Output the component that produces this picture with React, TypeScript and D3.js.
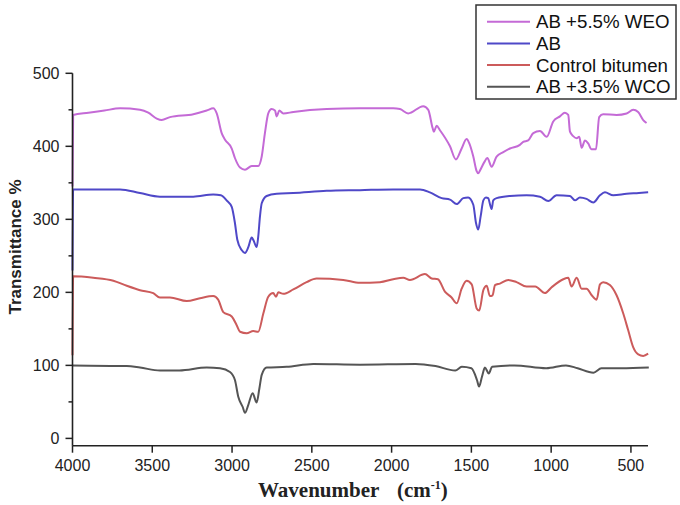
import React from "react";
import * as d3 from "d3";

const W = 680;
const H = 505;

const seriesNames = ["AB +5.5% WEO", "AB", "Control bitumen", "AB +3.5% WCO"];
const seriesColors = ["#c46ad6", "#4f48c8", "#cc5b5b", "#555555"];

const xTicks = [4000, 3500, 3000, 2500, 2000, 1500, 1000, 500];
const yTicks = [0, 100, 200, 300, 400, 500];
const yMinorTicks = [50, 150, 250, 350, 450];

// AB +5.5% WEO  [wavenumber, transmittance]
const weoData: [number, number][] = [
  [4000, 345], [3996, 443], [3900, 446], [3800, 449], [3702, 452], [3577, 450], [3525, 446],
  [3472, 438], [3441, 436], [3389, 440], [3243, 444], [3159, 449], [3118, 452], [3096, 445],
  [3065, 418], [3044, 409], [3002, 397], [2982, 384], [2950, 371], [2919, 368], [2877, 373],
  [2836, 373], [2814, 386], [2794, 418], [2773, 445], [2752, 451], [2731, 449], [2720, 441],
  [2704, 449], [2679, 445], [2616, 447], [2407, 451], [2198, 452], [1990, 452], [1948, 451],
  [1896, 445], [1802, 455], [1770, 450], [1743, 425], [1735, 420], [1718, 428], [1697, 422],
  [1634, 400], [1597, 382], [1561, 397], [1530, 410], [1513, 404], [1488, 386], [1467, 366],
  [1457, 363], [1446, 367], [1420, 378], [1400, 384], [1373, 372], [1342, 386], [1300, 392],
  [1258, 397], [1196, 402], [1175, 406], [1144, 408], [1112, 418], [1070, 421], [1028, 413],
  [987, 434], [945, 441], [914, 446], [893, 443], [882, 420], [862, 414], [840, 411],
  [824, 413], [809, 398], [788, 408], [768, 404], [747, 396], [719, 396], [699, 440],
  [674, 444], [590, 443], [527, 445], [486, 450], [455, 447], [423, 436], [402, 432],
];

// AB
const abData: [number, number][] = [
  [4000, 230], [3996, 341], [3702, 341], [3577, 336], [3452, 331], [3243, 331], [3118, 334],
  [3070, 333], [3034, 326], [3002, 317], [2982, 295], [2967, 272], [2940, 258], [2919, 254],
  [2898, 262], [2877, 275], [2865, 271], [2846, 262], [2836, 276], [2825, 304], [2814, 322],
  [2783, 332], [2720, 335], [2616, 336], [2407, 339], [2198, 340], [1990, 341], [1822, 341],
  [1760, 337], [1686, 329], [1634, 327], [1592, 321], [1551, 329], [1520, 330], [1488, 320],
  [1471, 295], [1457, 286], [1442, 304], [1425, 326], [1409, 330], [1395, 329], [1373, 314],
  [1363, 326], [1342, 329], [1258, 332], [1154, 333], [1070, 331], [1018, 325], [966, 333],
  [882, 332], [851, 326], [820, 330], [778, 328], [736, 323], [694, 333], [663, 337],
  [611, 333], [527, 335], [450, 336], [392, 337],
];

// Control bitumen
const controlData: [number, number][] = [
  [4000, 114], [3996, 222], [3870, 220], [3744, 216], [3660, 209], [3577, 203], [3494, 199],
  [3452, 193], [3389, 193], [3284, 188], [3201, 192], [3118, 195], [3087, 190], [3055, 173],
  [3002, 167], [2971, 155], [2950, 146], [2908, 144], [2867, 147], [2836, 146], [2804, 171],
  [2773, 194], [2742, 199], [2725, 194], [2710, 200], [2679, 198], [2616, 204], [2533, 214],
  [2470, 219], [2303, 217], [2198, 213], [2073, 214], [1990, 218], [1927, 220], [1885, 217],
  [1791, 225], [1749, 219], [1710, 218], [1666, 201], [1624, 193], [1592, 185], [1561, 205],
  [1530, 216], [1498, 211], [1467, 178], [1451, 175], [1425, 203], [1404, 209], [1384, 195],
  [1367, 196], [1352, 210], [1321, 212], [1269, 217], [1217, 214], [1154, 208], [1100, 208],
  [1039, 199], [997, 207], [924, 218], [893, 220], [872, 208], [840, 220], [809, 205],
  [778, 205], [746, 196], [715, 190], [694, 211], [674, 214], [632, 210], [590, 196],
  [548, 171], [517, 148], [486, 125], [454, 115], [423, 113], [392, 116],
];

// AB +3.5% WCO
const wcoData: [number, number][] = [
  [4000, 100], [3660, 99], [3577, 97], [3452, 93], [3330, 93], [3159, 97], [3075, 96],
  [3013, 91], [2982, 80], [2961, 57], [2933, 43], [2919, 35], [2898, 46], [2871, 62],
  [2846, 49], [2829, 68], [2814, 87], [2783, 97], [2658, 98], [2491, 102], [2198, 101],
  [1849, 102], [1725, 99], [1601, 93], [1560, 98], [1500, 96], [1465, 80], [1452, 71],
  [1434, 84], [1415, 97], [1391, 89], [1370, 98], [1230, 100], [1031, 96], [907, 100],
  [834, 96], [735, 90], [685, 96], [560, 96], [388, 97],
];

const allSeries = [weoData, abData, controlData, wcoData];

export default function App() {
  const x = d3.scaleLinear().domain([4000, 393]).range([72.5, 648]);
  const y = d3.scaleLinear().domain([-10, 500]).range([445.7, 73.3]);

  const line = d3
    .line<[number, number]>()
    .x((d) => x(d[0]))
    .y((d) => y(d[1]))
    .curve(d3.curveMonotoneX);

  const drawOrder = [3, 2, 1, 0];
  const axisY = y(-10);
  const axisX = x(4000);

  return (
    <svg
      width={W}
      height={H}
      style={{ position: "absolute", left: 0, top: 0, background: "#fff" }}
      fontFamily="'Liberation Sans', Arial, sans-serif"
    >
      <rect x={0} y={0} width={W} height={H} fill="#fff" />
      {/* curves */}
      {drawOrder.map((i) => (
        <path
          key={i}
          d={line(allSeries[i]) || ""}
          fill="none"
          stroke={seriesColors[i]}
          strokeWidth={2}
          strokeLinejoin="round"
        />
      ))}

      {/* axes */}
      <line x1={axisX} x2={x(393)} y1={axisY} y2={axisY} stroke="#222" strokeWidth={1.6} />
      <line x1={axisX} x2={axisX} y1={y(500)} y2={axisY} stroke="#222" strokeWidth={1.6} />
      {xTicks.map((t) => (
        <g key={t}>
          <line x1={x(t)} x2={x(t)} y1={axisY} y2={axisY + 7} stroke="#222" strokeWidth={1.5} />
          <text x={x(t)} y={471} fontSize={16} textAnchor="middle" fill="#222">
            {t}
          </text>
        </g>
      ))}
      {yTicks.map((t) => (
        <g key={t}>
          <line x1={axisX - 7} x2={axisX} y1={y(t)} y2={y(t)} stroke="#222" strokeWidth={1.5} />
          <text x={axisX - 13} y={y(t) + 5.5} fontSize={16} textAnchor="end" fill="#222">
            {t}
          </text>
        </g>
      ))}
      {yMinorTicks.map((t) => (
        <line key={t} x1={axisX - 4} x2={axisX} y1={y(t)} y2={y(t)} stroke="#222" strokeWidth={1.5} />
      ))}

      {/* axis titles */}
      <text
        transform={`translate(21,247) rotate(-90)`}
        textAnchor="middle"
        fontSize={17}
        fontWeight="bold"
        fill="#222"
      >
        Transmittance %
      </text>
      <g fontFamily="'Liberation Serif', 'Times New Roman', serif" fontWeight="bold" fill="#222">
        <text x={258} y={497} fontSize={21}>
          Wavenumber
        </text>
        <text x={397} y={497} fontSize={21}>
          (cm
          <tspan fontSize={12} dy={-8}>
            -1
          </tspan>
          <tspan dy={8}>)</tspan>
        </text>
      </g>

      {/* legend */}
      <rect x={476} y={5} width={200} height={94} fill="#fff" stroke="#333" strokeWidth={1.5} />
      {seriesNames.map((name, i) => {
        const cy = 21.7 + i * 21.7;
        return (
          <g key={name}>
            <line x1={487} x2={530} y1={cy} y2={cy} stroke={seriesColors[i]} strokeWidth={2} />
            <text x={536} y={cy + 6.5} fontSize={18.7} fill="#111">
              {name}
            </text>
          </g>
        );
      })}
    </svg>
  );
}
